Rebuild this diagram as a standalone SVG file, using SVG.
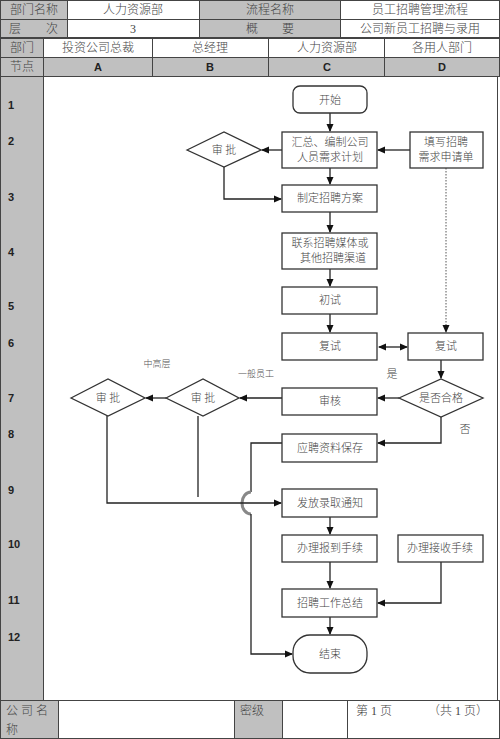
<svg xmlns="http://www.w3.org/2000/svg" width="500" height="739" viewBox="0 0 500 739">
<defs>
<marker id="ah" markerWidth="8" markerHeight="8" refX="7" refY="4" orient="auto" markerUnits="userSpaceOnUse"><path d="M0,0.5 L8,4 L0,7.5 Z" fill="#111"/></marker>
<marker id="ahs" markerWidth="8" markerHeight="8" refX="1" refY="4" orient="auto" markerUnits="userSpaceOnUse"><path d="M8,0.5 L0,4 L8,7.5 Z" fill="#111"/></marker>
<style>
.g{fill:#c0c0c0;stroke:#444;stroke-width:1}
.w{fill:#fff;stroke:#444;stroke-width:1}
.h{font-family:"Liberation Serif","Noto Sans CJK SC",serif;font-size:12px;font-weight:300;fill:#444;text-anchor:middle}
.hl{font-family:"Liberation Serif","Noto Sans CJK SC",serif;font-size:12px;font-weight:300;fill:#444}
.b{font-family:"Liberation Sans",Arial,sans-serif;font-size:11px;font-weight:bold;fill:#222;text-anchor:middle}
.n{font-family:"Liberation Sans",Arial,sans-serif;font-size:11px;font-weight:bold;fill:#222}
.box{fill:#fff;stroke:#333;stroke-width:1.3}
.t{font-family:"Liberation Serif","Noto Sans CJK SC",serif;font-size:11px;font-weight:300;fill:#444;text-anchor:middle}
.s{font-family:"Liberation Serif","Noto Sans CJK SC",serif;font-size:9px;font-weight:300;fill:#555;text-anchor:middle}
.c{fill:none;stroke:#222;stroke-width:1.3}
</style>
</defs>
<rect x="0" y="0" width="500" height="739" fill="#fff"/>
<g id="header">
<rect class="g" x="0.5" y="0.5" width="67" height="19"/>
<rect class="w" x="67.5" y="0.5" width="132" height="19"/>
<rect class="g" x="199.5" y="0.5" width="141" height="19"/>
<rect class="w" x="340.5" y="0.5" width="159" height="19"/>
<text class="h" x="34" y="14">部门名称</text>
<text class="h" x="133" y="14">人力资源部</text>
<text class="h" x="270" y="14">流程名称</text>
<text class="h" x="420" y="14">员工招聘管理流程</text>
<rect class="g" x="0.5" y="19.5" width="67" height="18"/>
<rect class="w" x="67.5" y="19.5" width="132" height="18"/>
<rect class="g" x="199.5" y="19.5" width="141" height="18"/>
<rect class="w" x="340.5" y="19.5" width="159" height="18"/>
<text class="hl" x="9" y="33">层</text><text class="hl" x="46" y="33">次</text>
<text class="h" x="133" y="33">3</text>
<text class="hl" x="246" y="33">概</text><text class="hl" x="282" y="33">要</text>
<text class="h" x="420" y="33">公司新员工招聘与录用</text>
<rect class="g" x="0.5" y="38.5" width="43" height="19"/>
<rect class="w" x="43.5" y="38.5" width="109" height="19"/>
<rect class="w" x="152.5" y="38.5" width="116" height="19"/>
<rect class="w" x="268.5" y="38.5" width="116" height="19"/>
<rect class="w" x="384.5" y="38.5" width="115" height="19"/>
<text class="h" x="22" y="52">部门</text>
<text class="h" x="98" y="52">投资公司总裁</text>
<text class="h" x="210" y="52">总经理</text>
<text class="h" x="327" y="52">人力资源部</text>
<text class="h" x="442" y="52">各用人部门</text>
<rect class="g" x="0.5" y="57.5" width="43" height="19"/>
<rect class="g" x="43.5" y="57.5" width="109" height="19"/>
<rect class="g" x="152.5" y="57.5" width="116" height="19"/>
<rect class="g" x="268.5" y="57.5" width="116" height="19"/>
<rect class="g" x="384.5" y="57.5" width="115" height="19"/>
<text class="h" x="22" y="71">节点</text>
<text class="b" x="98" y="71">A</text>
<text class="b" x="210" y="71">B</text>
<text class="b" x="327" y="71">C</text>
<text class="b" x="442" y="71">D</text>
</g>
<g id="body">
<rect x="0.5" y="76.5" width="43" height="624" fill="#c0c0c0" stroke="#444" stroke-width="1"/>
<rect x="43.5" y="76.5" width="454" height="624" fill="none" stroke="#444" stroke-width="1"/>
<text class="n" x="8" y="109">1</text>
<text class="n" x="8" y="145">2</text>
<text class="n" x="8" y="201">3</text>
<text class="n" x="8" y="256">4</text>
<text class="n" x="8" y="310">5</text>
<text class="n" x="8" y="347">6</text>
<text class="n" x="8" y="402">7</text>
<text class="n" x="8" y="438">8</text>
<text class="n" x="8" y="494">9</text>
<text class="n" x="8" y="548">10</text>
<text class="n" x="8" y="604">11</text>
<text class="n" x="8" y="641">12</text>
</g>
<g id="footer">
<rect class="g" x="0.5" y="700.5" width="58" height="38"/>
<rect class="w" x="58.5" y="700.5" width="176" height="38"/>
<rect class="g" x="234.5" y="700.5" width="48" height="38"/>
<rect class="w" x="282.5" y="700.5" width="65" height="38"/>
<rect class="w" x="347.5" y="700.5" width="152" height="38"/>
<text class="hl" x="6" y="715">公 司 名</text>
<text class="hl" x="6" y="734">称</text>
<text class="hl" x="240" y="715">密级</text>
<text class="hl" x="356" y="715">第 1 页</text>
<text class="hl" x="428" y="715">（共 1 页）</text>
</g>
<g id="connectors">
<line class="c" x1="330" y1="113" x2="330" y2="131" marker-end="url(#ah)"/>
<line class="c" x1="410" y1="150" x2="378" y2="150" marker-end="url(#ah)"/>
<line class="c" x1="282" y1="150" x2="262" y2="150" marker-end="url(#ah)"/>
<polyline class="c" points="224,167 224,199 281,199" marker-end="url(#ah)"/>
<line class="c" x1="330" y1="168" x2="330" y2="184" marker-end="url(#ah)"/>
<line class="c" x1="330" y1="212" x2="330" y2="232" marker-end="url(#ah)"/>
<line class="c" x1="330" y1="269" x2="330" y2="286" marker-end="url(#ah)"/>
<line class="c" x1="330" y1="314" x2="330" y2="332" marker-end="url(#ah)"/>
<line x1="446" y1="168" x2="446" y2="332" stroke="#555" stroke-width="1" stroke-dasharray="1.5,1.5" marker-end="url(#ah)"/>
<line class="c" x1="379" y1="347" x2="407" y2="347" marker-start="url(#ahs)" marker-end="url(#ah)"/>
<line class="c" x1="441" y1="360" x2="441" y2="378" marker-end="url(#ah)"/>
<line class="c" x1="399" y1="398" x2="378" y2="398" marker-end="url(#ah)"/>
<line class="c" x1="282" y1="398" x2="240" y2="398" marker-end="url(#ah)"/>
<line class="c" x1="166" y1="398" x2="146" y2="398" marker-end="url(#ah)"/>
<polyline class="c" points="441,417 441,443 378,443" marker-end="url(#ah)"/>
<polyline class="c" points="282,443 251,443 251,492"/>
<path d="M251,492 A9,11 0 0 0 251,514" fill="none" stroke="#888" stroke-width="3"/>
<polyline class="c" points="251,514 251,654 292,654" marker-end="url(#ah)"/>
<line class="c" x1="198" y1="416" x2="198" y2="497"/>
<polyline class="c" points="107,416 107,503 281,503" marker-end="url(#ah)"/>
<line class="c" x1="330" y1="517" x2="330" y2="534" marker-end="url(#ah)"/>
<line class="c" x1="330" y1="562" x2="330" y2="588" marker-end="url(#ah)"/>
<polyline class="c" points="441,562 441,603 378,603" marker-end="url(#ah)"/>
<line class="c" x1="330" y1="617" x2="330" y2="634" marker-end="url(#ah)"/>
</g>
<g id="n-start"><rect class="box" x="293" y="86" width="74" height="27" rx="7"/><text class="t" x="330" y="104">开始</text></g>
<g id="n-plan"><rect class="box" x="282" y="132" width="95" height="36"/><text class="t" x="330" y="146">汇总、编制公司</text><text class="t" x="330" y="161">人员需求计划</text></g>
<g id="n-approve1"><polygon class="box" points="187,150 224,132 261,150 224,167"/><text class="t" x="224" y="154">审  批</text></g>
<g id="n-request"><rect class="box" x="410" y="132" width="73" height="36"/><text class="t" x="446" y="146">填写招聘</text><text class="t" x="446" y="161">需求申请单</text></g>
<g id="n-scheme"><rect class="box" x="282" y="185" width="95" height="27"/><text class="t" x="330" y="202">制定招聘方案</text></g>
<g id="n-media"><rect class="box" x="282" y="233" width="95" height="36"/><text class="t" x="330" y="247">联系招聘媒体或</text><text class="t" x="333" y="262">其他招聘渠道</text></g>
<g id="n-first"><rect class="box" x="282" y="287" width="95" height="27"/><text class="t" x="330" y="304">初试</text></g>
<g id="n-second-c"><rect class="box" x="282" y="333" width="95" height="27"/><text class="t" x="330" y="350">复试</text></g>
<g id="n-second-d"><rect class="box" x="408" y="333" width="75" height="27"/><text class="t" x="446" y="350">复试</text></g>
<g id="n-pass"><polygon class="box" points="399,398 441,379 483,398 441,417"/><text class="t" x="441" y="402">是否合格</text></g>
<g id="n-review"><rect class="box" x="282" y="388" width="95" height="27"/><text class="t" x="330" y="405">审核</text></g>
<g id="n-approve-b"><polygon class="box" points="166,398 203,379 239,398 203,416"/><text class="t" x="203" y="402">审  批</text></g>
<g id="n-approve-a"><polygon class="box" points="71,398 108,379 145,398 108,416"/><text class="t" x="108" y="402">审  批</text></g>
<g id="n-archive"><rect class="box" x="282" y="434" width="95" height="28"/><text class="t" x="330" y="452">应聘资料保存</text></g>
<g id="n-notice"><rect class="box" x="282" y="489" width="95" height="28"/><text class="t" x="330" y="507">发放录取通知</text></g>
<g id="n-report"><rect class="box" x="282" y="535" width="95" height="27"/><text class="t" x="330" y="552">办理报到手续</text></g>
<g id="n-receive"><rect class="box" x="398" y="535" width="85" height="27"/><text class="t" x="440" y="552">办理接收手续</text></g>
<g id="n-summary"><rect class="box" x="282" y="589" width="95" height="28"/><text class="t" x="330" y="607">招聘工作总结</text></g>
<g id="n-end"><rect class="box" x="293" y="635" width="74" height="38" rx="17"/><text class="t" x="330" y="658">结束</text></g>
<g id="labels">
<text class="s" x="157" y="367">中高层</text>
<text class="s" x="256" y="377">一般员工</text>
<text class="t" x="392" y="378">是</text>
<text class="t" x="465" y="433">否</text>
</g>
</svg>
